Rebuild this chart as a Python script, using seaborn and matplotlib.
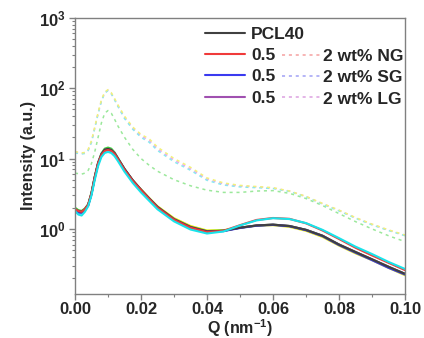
import numpy as np
import pandas as pd
import matplotlib
matplotlib.use("Agg")
import matplotlib.pyplot as plt
from matplotlib.lines import Line2D
from matplotlib.ticker import MultipleLocator, FormatStrFormatter, LogLocator
import seaborn as sns

# ---------------- data ----------------
q = [0.000, 0.001, 0.002, 0.003, 0.004, 0.005, 0.006, 0.007, 0.008, 0.009,
     0.010, 0.011, 0.012, 0.013, 0.015, 0.0175, 0.020, 0.0225, 0.025, 0.030,
     0.035, 0.040, 0.045, 0.050, 0.055, 0.060, 0.065, 0.070, 0.075, 0.080,
     0.085, 0.090, 0.095, 0.100]

solid_green  = [2.0, 1.85, 1.8, 1.95, 2.25, 3.3, 5.6, 8.8, 11.8, 13.8,
                14.3, 13.8, 12.2, 10.2, 7.1, 4.9, 3.6, 2.7, 2.05, 1.38,
                1.07, 0.93, 0.95, 1.04, 1.12, 1.15, 1.1, 0.97, 0.8, 0.6,
                0.47, 0.37, 0.29, 0.23]
solid_yellow = [1.9, 1.75, 1.7, 1.9, 2.2, 3.2, 5.4, 8.5, 11.3, 13.0,
                13.4, 13.0, 11.7, 9.9, 7.0, 4.9, 3.65, 2.75, 2.1, 1.42,
                1.1, 0.95, 0.96, 1.04, 1.11, 1.13, 1.07, 0.94, 0.77, 0.58,
                0.45, 0.36, 0.28, 0.22]
solid_cyan   = [1.8, 1.6, 1.55, 1.75, 2.1, 3.0, 5.0, 7.8, 10.5, 12.0,
                12.4, 12.0, 10.8, 9.2, 6.5, 4.5, 3.3, 2.5, 1.9, 1.28,
                0.98, 0.86, 0.92, 1.12, 1.32, 1.42, 1.38, 1.21, 0.97, 0.74,
                0.56, 0.44, 0.34, 0.27]
solid_red    = [1.9, 1.8, 1.75, 1.9, 2.2, 3.2, 5.4, 8.5, 11.2, 12.8,
                13.2, 12.8, 11.6, 9.8, 6.9, 4.8, 3.55, 2.65, 2.0, 1.35,
                1.04, 0.9, 0.94, 1.13, 1.34, 1.43, 1.39, 1.2, 0.95, 0.72,
                0.54, 0.42, 0.33, 0.26]
solid_blue   = [1.75, 1.7, 1.7, 1.85, 2.15, 3.1, 5.3, 8.4, 11.2, 12.9,
                13.2, 12.8, 11.5, 9.7, 6.9, 4.8, 3.55, 2.65, 2.0, 1.35,
                1.04, 0.9, 0.93, 1.03, 1.11, 1.14, 1.09, 0.96, 0.79, 0.59,
                0.46, 0.36, 0.28, 0.225]
solid_purple = [1.8, 1.75, 1.7, 1.9, 2.2, 3.2, 5.5, 8.6, 11.5, 13.3,
                13.7, 13.2, 11.9, 10.0, 7.1, 4.9, 3.6, 2.7, 2.05, 1.37,
                1.06, 0.92, 0.94, 1.04, 1.12, 1.15, 1.1, 0.97, 0.8, 0.6,
                0.47, 0.37, 0.29, 0.23]
solid_black  = [1.9, 1.8, 1.75, 1.9, 2.2, 3.2, 5.5, 8.6, 11.5, 13.3,
                13.7, 13.2, 11.9, 10.0, 7.1, 4.9, 3.6, 2.7, 2.05, 1.37,
                1.06, 0.92, 0.94, 1.04, 1.12, 1.15, 1.1, 0.97, 0.8, 0.6,
                0.47, 0.37, 0.29, 0.23]

dot_yellow   = [12.5, 12.3, 12.0, 12.2, 13.5, 18.0, 28.0, 45.0, 68.0, 88.0,
                95.0, 86.0, 71.0, 58.0, 40.0, 28.0, 22.0, 19.0, 14.5, 10.0,
                7.5, 5.3, 4.5, 4.15, 4.0, 3.85, 3.45, 2.9, 2.3, 1.85,
                1.45, 1.17, 0.97, 0.82]
dot_cyan     = [12.0, 11.8, 11.6, 11.8, 13.0, 17.0, 27.0, 43.0, 65.0, 85.0,
                92.0, 83.0, 68.0, 55.0, 37.0, 26.0, 20.0, 17.0, 13.0, 9.0,
                6.8, 4.9, 4.2, 3.95, 3.85, 3.75, 3.4, 2.85, 2.25, 1.8,
                1.42, 1.14, 0.95, 0.8]
dot_green    = [6.2, 6.1, 6.0, 6.2, 6.8, 8.5, 12.5, 20.0, 32.0, 44.0,
                48.0, 44.0, 36.0, 29.0, 20.0, 13.5, 10.0, 8.0, 6.6, 5.0,
                4.1, 3.55, 3.3, 3.3, 3.45, 3.5, 3.2, 2.7, 2.15, 1.65,
                1.27, 1.0, 0.8, 0.66]
dot_pink     = [12.3, 12.1, 11.8, 12.0, 13.2, 17.5, 27.5, 44.0, 66.0, 86.0,
                93.0, 84.0, 69.0, 56.0, 38.5, 27.0, 21.0, 18.0, 13.7, 9.5,
                7.1, 5.1, 4.35, 4.05, 3.95, 3.8, 3.45, 2.88, 2.28, 1.83,
                1.44, 1.16, 0.96, 0.81]

legend_solid_labels = ["PCL40", "0.5", "0.5", "0.5"]
legend_dot_labels = ["2 wt% NG", "2 wt% SG", "2 wt% LG"]

# ---------------- styling ----------------
sns.set_theme(style="ticks")
plt.rcParams["font.family"] = ["Liberation Sans", "DejaVu Sans"]
plt.rcParams["font.weight"] = "bold"
plt.rcParams["mathtext.fontset"] = "custom"
plt.rcParams["mathtext.rm"] = "Liberation Sans:bold"
plt.rcParams["mathtext.bf"] = "Liberation Sans:bold"
plt.rcParams["mathtext.default"] = "bf"

fig = plt.figure(figsize=(4.24, 3.38), dpi=100)
ax = fig.add_axes([75 / 424, 1 - 294 / 338, 330 / 424, (294 - 17.7) / 338])

solid = [(solid_yellow, "#e8e800"), (solid_green, "#3ccf3c"),
         (solid_purple, "#a03ca8"), (solid_blue, "#3a3af0"),
         (solid_black, "#404040"), (solid_red, "#f03a3a"),
         (solid_cyan, "#19e3ea")]
dotted = [(dot_green, "#9be89b"), (dot_pink, "#f0a0f0"),
          (dot_cyan, "#8ae8f0"), (dot_yellow, "#f2f27a")]

for vals, col in dotted:
    sns.lineplot(x=q, y=vals, ax=ax, color=col, lw=1.1,
                 linestyle=(0, (2, 2.5)), legend=False)
for vals, col in solid:
    sns.lineplot(x=q, y=vals, ax=ax, color=col, lw=1.5, legend=False)

ax.set_yscale("log")
ax.set_xlim(0.0, 0.1)
ax.set_ylim(0.119, 1000)
ax.xaxis.set_major_locator(MultipleLocator(0.02))
ax.xaxis.set_minor_locator(MultipleLocator(0.01))
ax.xaxis.set_major_formatter(FormatStrFormatter("%.2f"))
ax.yaxis.set_major_locator(LogLocator(base=10, numticks=10))
ax.yaxis.set_minor_locator(LogLocator(base=10, subs=np.arange(2, 10), numticks=20))

for s in ax.spines.values():
    s.set_color("#808080")
    s.set_linewidth(1.0)
ax.tick_params(which="major", direction="out", length=4, width=1, color="#808080",
               labelsize=12, pad=3)
ax.tick_params(axis="x", which="major", pad=2)
ax.tick_params(which="minor", direction="out", length=2, width=0.8, color="#808080")
for lab in ax.get_xticklabels() + ax.get_yticklabels():
    lab.set_fontweight("bold")

ax.set_xlabel("Q (nm$^{-1}$)", fontsize=11.5, fontweight="bold", labelpad=0)
ax.set_ylabel("Intensity (a.u.)", fontsize=11.5, fontweight="bold", labelpad=2)

# ---------------- legend ----------------
h1 = [Line2D([], [], color=c, lw=1.5) for c in ["#404040", "#f03a3a", "#3a3af0", "#a050b0"]]
h2 = [Line2D([], [], color=c, lw=1.1, linestyle=(0, (2, 2.5)))
      for c in ["#f5a0a0", "#a0a0f5", "#dca0e0"]]
leg1 = ax.legend(h1, legend_solid_labels, loc="upper left",
                 bbox_to_anchor=(0.394, 0.967), frameon=False,
                 handlelength=2.3, handletextpad=0.35, labelspacing=0.35,
                 borderpad=0, borderaxespad=0, prop={"weight": "bold", "size": 12.5})
ax.add_artist(leg1)
leg2 = ax.legend(h2, legend_dot_labels, loc="upper left",
                 bbox_to_anchor=(0.627, 0.887), frameon=False,
                 handlelength=2.3, handletextpad=0.05, labelspacing=0.35,
                 borderpad=0, borderaxespad=0, prop={"weight": "bold", "size": 12.5})

fig.savefig("out.png", dpi=100)
